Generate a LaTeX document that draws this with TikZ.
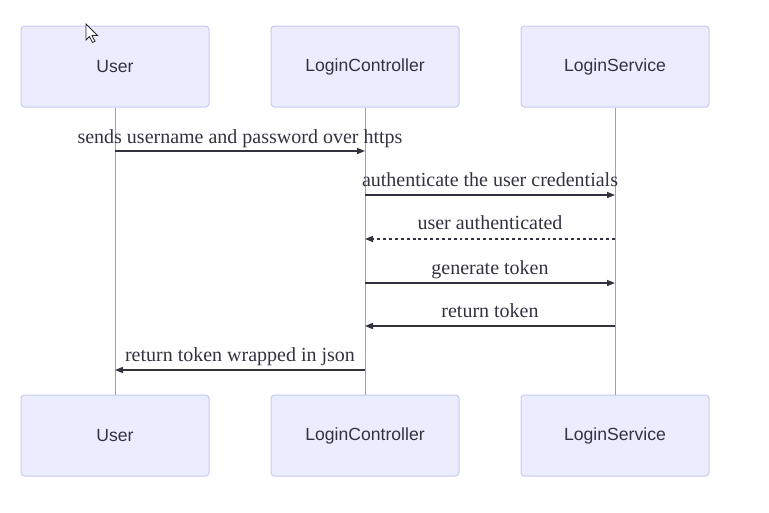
\documentclass[tikz,border=0pt]{standalone}
\usepackage{fontspec}
\setmainfont{Liberation Serif}
\newfontfamily\actorfont{Liberation Sans}
\usetikzlibrary{arrows.meta}
\definecolor{actfill}{HTML}{ECECFF}
\definecolor{actline}{HTML}{C7CBEF}
\definecolor{lifeline}{HTML}{A0A0B0}
\definecolor{msgcol}{HTML}{333340}
\begin{document}
\begin{tikzpicture}[x=0.75pt,y=-0.75pt,
  actor/.style={draw=actline,fill=actfill,line width=0.75pt,rounded corners=2.5pt,
    minimum width=141pt,minimum height=60.75pt,inner sep=0pt,
    font=\actorfont\fontsize{13.2}{15}\selectfont,text=msgcol},
  life/.style={draw=lifeline,line width=0.75pt},
  msg/.style={draw=msgcol,line width=1.1pt,-{Triangle[length=6pt,width=4.5pt]}},
  dmsg/.style={msg,dash pattern=on 2.2pt off 2.2pt},
  lbl/.style={font=\fontsize{15}{17}\selectfont,text=msgcol,inner sep=0pt,anchor=base}]
\useasboundingbox (0,0) rectangle (769,512);
\fill[white] (0,0) rectangle (769,512);
% actors
\node[actor] (userT) at (115,66.5) {User};
\node[actor] (ctrlT) at (365,66.5) {LoginController};
\node[actor] (svcT)  at (615,66.5) {LoginService};
\node[actor] (userB) at (115,435.5) {User};
\node[actor] (ctrlB) at (365,435.5) {LoginController};
\node[actor] (svcB)  at (615,435.5) {LoginService};
% lifelines
\draw[life] (userT.south) -- (userB.north);
\draw[life] (ctrlT.south) -- (ctrlB.north);
\draw[life] (svcT.south) -- (svcB.north);
% message anchors
\coordinate (u1) at (115,151); \coordinate (c1) at (365,151);
\coordinate (c2) at (365,195); \coordinate (s2) at (615,195);
\coordinate (c3) at (365,239); \coordinate (s3) at (615,239);
\coordinate (c4) at (365,283); \coordinate (s4) at (615,283);
\coordinate (c5) at (365,326); \coordinate (s5) at (615,326);
\coordinate (u6) at (115,370); \coordinate (c6) at (365,370);
% messages
\draw[msg] (u1) -- (c1);
\draw[msg] (c2) -- (s2);
\draw[dmsg] (s3) -- (c3);
\draw[msg] (c4) -- (s4);
\draw[msg] (s5) -- (c5);
\draw[msg] (c6) -- (u6);
% labels
\node[lbl] (l1) at (240,143.5) {sends username and password over https};
\node[lbl] (l2) at (490,186) {authenticate the user credentials};
\node[lbl] (l3) at (490,229.5) {user authenticated};
\node[lbl] (l4) at (490,274) {generate token};
\node[lbl] (l5) at (490,317.5) {return token};
\node[lbl] (l6) at (240,361.5) {return token wrapped in json};
% mouse cursor
\draw[fill=white,draw=black!85,line width=0.6pt,line join=miter]
  (86,24) -- (86,40) -- (89.5,36.5) -- (92.5,42.5) -- (95,41.3) -- (92,35.5) -- (97.5,35.5) -- cycle;
\end{tikzpicture}
\end{document}
